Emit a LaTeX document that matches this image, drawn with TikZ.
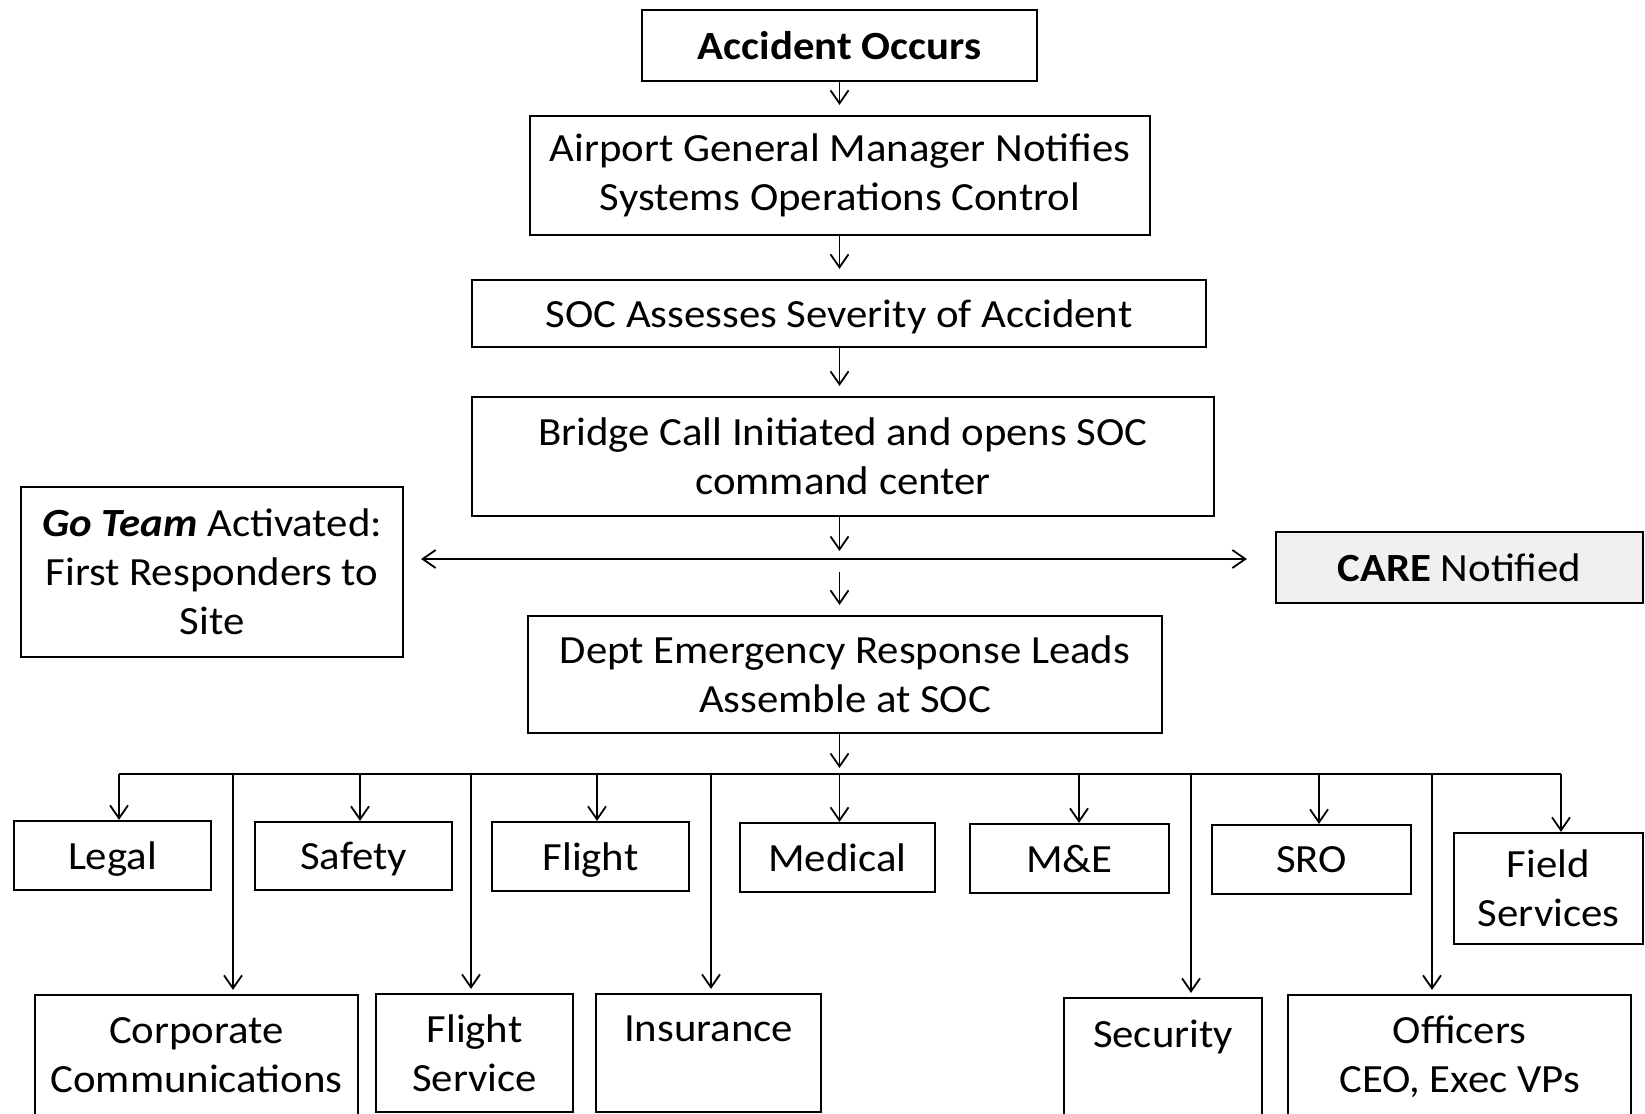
\documentclass[tikz,border=0pt]{standalone}
\usepackage{fontspec}
\setmainfont{Carlito}[FakeStretch=1.07]
\usetikzlibrary{arrows.meta,calc}
\begin{document}
\begin{tikzpicture}[x=0.5pt,y=-0.5pt,
  box/.style={draw, line width=1.1pt, align=center, inner sep=0pt, font=\fontsize{20}{24.5}\selectfont},
  flat/.style={text depth=0pt},
  arr/.style={line width=0.9pt, -{Straight Barb[length=6.5pt,width=9pt]}},
  darr/.style={line width=0.9pt, {Straight Barb[length=6.5pt,width=9pt]}-{Straight Barb[length=6.5pt,width=9pt]}},
  ln/.style={line width=0.9pt}]
\clip (0,0) rectangle (1645,1114);
\fill[white] (0,0) rectangle (1645,1114);

% main column
\node[box, minimum width=197.5pt, minimum height=35.5pt, font=\fontsize{20}{24.5}\selectfont\bfseries] (acc) at (839.5,45.5) {Accident Occurs};
\node[box, minimum width=310pt, minimum height=59.5pt] (agm) at (840,175.5) {Airport General Manager Notifies\\Systems Operations Control};
\node[box, flat, minimum width=367pt, minimum height=33.5pt] (soc) at (839,313.5) {SOC Assesses Severity of Accident};
\node[box, minimum width=371pt, minimum height=59.5pt] (bridge) at (843,456.5) {Bridge Call Initiated and opens SOC\\command center};
\node[box, minimum width=191pt, minimum height=85pt] (go) at (212,572) {\textbf{\textit{Go Team}} Activated:\\First Responders to\\Site};
\node[box, minimum width=183.5pt, minimum height=35.5pt, fill=gray!12] (care) at (1459.5,567.5) {\textbf{CARE} Notified};
\node[box, minimum width=317pt, minimum height=58.5pt] (dept) at (845,674.5) {Dept Emergency Response Leads\\Assemble at SOC};

% first row
\node[box, flat, minimum width=98.5pt, minimum height=34.5pt] (legal) at (112.5,855.5) {Legal};
\node[box, flat, minimum width=98.5pt, minimum height=34pt] (safety) at (353.5,856) {Safety};
\node[box, flat, minimum width=98.5pt, minimum height=34.5pt] (flight) at (590.5,856.5) {Flight};
\node[box, flat, minimum width=97.5pt, minimum height=34.5pt] (medical) at (837.5,857.5) {Medical};
\node[box, flat, minimum width=99.5pt, minimum height=34.5pt] (me) at (1069.5,858.5) {M\&E};
\node[box, flat, minimum width=99.5pt, minimum height=34.5pt] (sro) at (1311.5,859.5) {SRO};
\node[box, minimum width=94.5pt, minimum height=55.5pt] (field) at (1548.5,888.5) {Field\\Services};

% second row
\node[box, minimum width=161.5pt, minimum height=60.5pt] (corp) at (196.5,1055.5) {Corporate\\Communications};
\node[box, minimum width=98.5pt, minimum height=59pt] (fs) at (474.5,1053) {Flight\\Service};
\node[box, minimum width=112.5pt, minimum height=59pt] (ins) at (708.5,1053) {Insurance\\\mbox{}};
\node[box, minimum width=99pt, minimum height=60pt] (sec) at (1163,1058) {Security\\\mbox{}};
\node[box, minimum width=171.5pt, minimum height=61.5pt] (off) at (1459.5,1056.5) {Officers\\CEO, Exec VPs};

% main column arrows
\draw[arr, shorten >=5pt] (acc.south) -- (acc.south |- agm.north);
\draw[arr, shorten >=5pt] (acc.south |- agm.south) -- (acc.south |- soc.north);
\draw[arr, shorten >=5pt] (acc.south |- soc.south) -- (acc.south |- bridge.north);
\coordinate (hm) at (839.5,559);
\draw[arr, shorten >=4pt] (acc.south |- bridge.south) -- (hm);
\draw[arr, shorten <=6.5pt, shorten >=5pt] (hm) -- (hm |- dept.north);
\draw[darr] ($(go.east |- hm)+(17,0)$) -- ($(care.west |- hm)+(-28,0)$);

% bus
\coordinate (bus) at (839.5,774);
\draw[arr, shorten >=3pt] (bus |- dept.south) -- (bus);
\coordinate (dlegal) at (119,774);
\coordinate (dcorp) at (233,774);
\coordinate (dsafety) at (360,774);
\coordinate (dfs) at (471,774);
\coordinate (dflight) at (597,774);
\coordinate (dins) at (711,774);
\coordinate (dme) at (1079,774);
\coordinate (dsec) at (1191,774);
\coordinate (dsro) at (1319,774);
\coordinate (doff) at (1432,774);
\coordinate (dfield) at (1561,774);
\draw[ln] (dlegal) -- (dfield);
\draw[arr] (dlegal) -- (dlegal |- legal.north);
\draw[arr] (dsafety) -- (dsafety |- safety.north);
\draw[arr] (dflight) -- (dflight |- flight.north);
\draw[arr] (bus) -- (bus |- medical.north);
\draw[arr] (dme) -- (dme |- me.north);
\draw[arr] (dsro) -- (dsro |- sro.north);
\draw[arr] (dfield) -- (dfield |- field.north);
\draw[arr, shorten >=2pt] (dcorp) -- (dcorp |- corp.north);
\draw[arr, shorten >=2pt] (dfs) -- (dfs |- fs.north);
\draw[arr, shorten >=2pt] (dins) -- (dins |- ins.north);
\draw[arr, shorten >=2pt] (dsec) -- (dsec |- sec.north);
\draw[arr, shorten >=2pt] (doff) -- (doff |- off.north);
\end{tikzpicture}
\end{document}
